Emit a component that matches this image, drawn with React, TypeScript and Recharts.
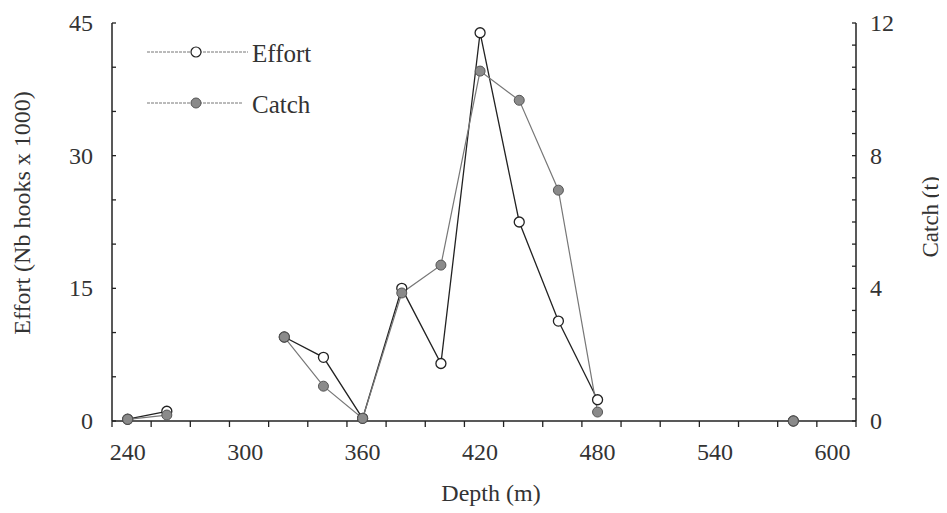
import { LineChart, Line, XAxis, YAxis, Legend } from "recharts"

// depth (m); null rows break the lines where the original has gaps
const depth = [240, 260, 300, 320, 340, 360, 380, 400, 420, 440, 460, 480, 530, 580]
const effort = [0.2, 1.1, null, 9.5, 7.2, 0.3, 15.0, 6.5, 43.9, 22.5, 11.3, 2.4, null, 0]
const catchT = [0.05, 0.18, null, 2.53, 1.05, 0.08, 3.86, 4.7, 10.55, 9.67, 6.96, 0.27, null, 0]

const depthLabels = [240, 300, 360, 420, 480, 540, 600]
const depthMinor = [232, 252, 272, 292, 312, 332, 352, 372, 392, 412, 432, 452, 472, 492, 512, 532, 552, 572, 592, 612]
const effortLabels = [0, 15, 30, 45]
const effortMinor = [5, 10, 20, 25, 35, 40]
const catchLabels = [0, 4, 8, 12]
const catchMinor = Array.from({ length: 19 }, (_, k) => k / 1.5).filter(v => !catchLabels.includes(v))

const data = depth.map((d, i) => ({ depth: d, effort: effort[i], catch: catchT[i] }))

const font = { fontFamily: '"Liberation Serif", "Times New Roman", serif', fontSize: 24, fill: "#333" }
const ink = "#222"

function BottomTick({ x, y, payload }: any) {
  const v = payload.value
  if (depthLabels.includes(v)) {
    return <text x={x} y={y + 31} textAnchor="middle" dominantBaseline="central" {...font}>{v}</text>
  }
  return <line x1={x} x2={x} y1={y} y2={y + 6} stroke={ink} strokeWidth={1.3} />
}

function LeftTick({ x, y, payload }: any) {
  const v = payload.value
  return (
    <g>
      <line x1={x} x2={x + 4} y1={y} y2={y} stroke={ink} strokeWidth={1.3} />
      {effortLabels.includes(v) && (
        <text x={x - 19} y={y} textAnchor="end" dominantBaseline="central" {...font}>{v}</text>
      )}
    </g>
  )
}

function RightTick({ x, y, payload }: any) {
  const v = payload.value
  return (
    <g>
      <line x1={x} x2={x - 4} y1={y} y2={y} stroke={ink} strokeWidth={1.3} />
      {catchLabels.includes(v) && (
        <text x={x + 14} y={y} textAnchor="start" dominantBaseline="central" {...font}>{v}</text>
      )}
    </g>
  )
}

function LegendBox() {
  return (
    <svg width={230} height={90}>
      <line x1={4} x2={105} y1={19} y2={19} stroke="#777" strokeWidth={1} strokeDasharray="3 1" />
      <circle cx={53} cy={19} r={5} fill="#fff" stroke={ink} strokeWidth={1.2} />
      <text x={109} y={20} dominantBaseline="central" {...font} fontSize={25}>Effort</text>
      <line x1={4} x2={100} y1={70} y2={70} stroke="#777" strokeWidth={1} strokeDasharray="3 1" />
      <circle cx={53} cy={70} r={5} fill="#8a8a8a" stroke="#555" strokeWidth={1} />
      <text x={109} y={71} dominantBaseline="central" {...font} fontSize={25}>Catch</text>
    </svg>
  )
}

export default function App() {
  return (
    <div style={{ width: 939, height: 505 }}>
      <LineChart width={939} height={505} data={data} margin={{ top: 15, right: 31, bottom: 42, left: 44 }} style={{ overflow: "visible" }}>
        <XAxis
          dataKey="depth"
          type="number"
          domain={[232, 612]}
          ticks={[...depthLabels, ...depthMinor].sort((a, b) => a - b)}
          interval={0}
          tickSize={0}
          tickMargin={0}
          tickLine={false}
          tick={<BottomTick />}
          height={50}
          axisLine={{ stroke: ink, strokeWidth: 1.5 }}
          label={(p: any) => {
            const vb = p.viewBox || { x: 104, y: 413, width: 744 }
            return <text x={vb.x + vb.width / 2 + 7} y={vb.y + 72} textAnchor="middle" dominantBaseline="central" {...font}>Depth (m)</text>
          }}
        />
        <YAxis
          yAxisId="l"
          orientation="left"
          domain={[0, 45]}
          ticks={[...effortLabels, ...effortMinor].sort((a, b) => a - b)}
          interval={0}
          tickSize={0}
          tickMargin={0}
          tickLine={false}
          tick={<LeftTick />}
          width={60}
          axisLine={{ stroke: ink, strokeWidth: 1.5 }}
          label={(p: any) => {
            const vb = p.viewBox || { x: 44, y: 15, height: 398 }
            const cx = vb.x - 30
            const cy = vb.y + vb.height / 2 - 9
            return <text x={cx} y={cy} transform={`rotate(-90 ${cx} ${cy})`} textAnchor="middle" dominantBaseline="central" {...font}>Effort (Nb hooks x 1000)</text>
          }}
        />
        <YAxis
          yAxisId="r"
          orientation="right"
          domain={[0, 12]}
          ticks={[...catchLabels, ...catchMinor].sort((a, b) => a - b)}
          interval={0}
          tickSize={0}
          tickMargin={0}
          tickLine={false}
          tick={<RightTick />}
          width={60}
          axisLine={{ stroke: ink, strokeWidth: 1.5 }}
          label={(p: any) => {
            const vb = p.viewBox || { x: 848, y: 15, height: 398 }
            const cx = vb.x + 74
            const cy = vb.y + 194
            return <text x={cx} y={cy} transform={`rotate(-90 ${cx} ${cy})`} textAnchor="middle" dominantBaseline="central" {...font} fontSize={23}>Catch (t)</text>
          }}
        />
        <Legend
          layout="vertical"
          verticalAlign="middle"
          align="center"
          content={() => <LegendBox />}
          wrapperStyle={{ position: "absolute", left: 135, top: 25, width: 230, height: 90 }}
        />
        <Line
          yAxisId="l"
          dataKey="effort"
          stroke={ink}
          strokeWidth={1.3}
          dot={{ r: 5, fill: "#fff", stroke: ink, strokeWidth: 1.3 }}
          activeDot={false}
          connectNulls={false}
          isAnimationActive={false}
        />
        <Line
          yAxisId="r"
          dataKey="catch"
          stroke="#777"
          strokeWidth={1.2}
          dot={{ r: 5, fill: "#8a8a8a", stroke: "#555", strokeWidth: 1 }}
          activeDot={false}
          connectNulls={false}
          isAnimationActive={false}
        />
      </LineChart>
    </div>
  )
}
